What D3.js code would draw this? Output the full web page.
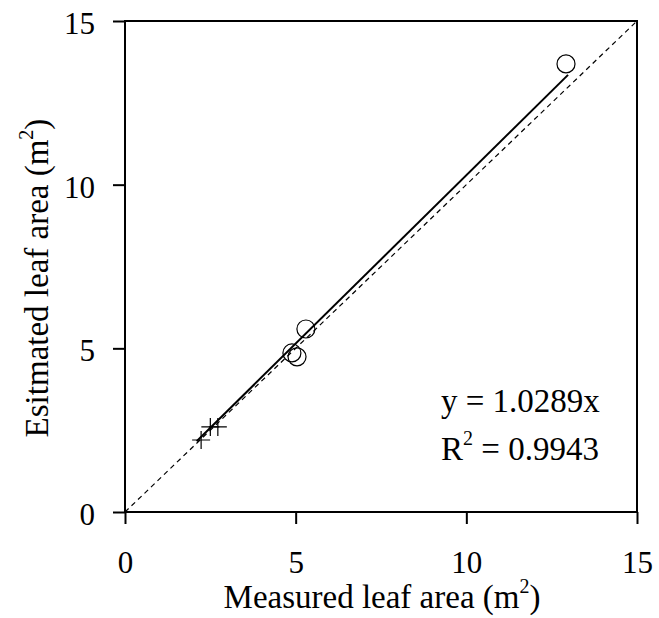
<!DOCTYPE html>
<html>
<head>
<meta charset="utf-8">
<script src="https://cdn.jsdelivr.net/npm/d3@7"></script>
<style>
  body { margin: 0; background: #fff; }
  text { font-family: "Liberation Serif", "Times New Roman", serif; fill: #000; }
</style>
</head>
<body>
<div id="chart"></div>
<script>
// data
var crossX = [2.23, 2.5, 2.72]
var crossY = [2.2, 2.6, 2.6]
var circleX = [4.89, 5.04, 5.3, 12.92]
var circleY = [4.86, 4.74, 5.59, 13.69]
var slope = 1.0289
var fitRange = [2.1, 12.98]
var tickVals = [0, 5, 10, 15]

var width = 659, height = 618

var svg = d3.select("#chart")
  .append("svg")
    .attr("width", width)
    .attr("height", height)

var x = d3.scaleLinear().domain([0, 15]).range([125, 637])
var y = d3.scaleLinear().domain([0, 15]).range([512, 21])

// 1:1 dashed line
svg.append("line")
  .attr("x1", x(0)).attr("y1", y(0))
  .attr("x2", x(15)).attr("y2", y(15))
  .attr("stroke", "#000")
  .attr("stroke-width", 1.2)
  .attr("stroke-dasharray", "5,4")

// fitted line
svg.append("line")
  .attr("x1", x(fitRange[0])).attr("y1", y(fitRange[0] * slope))
  .attr("x2", x(fitRange[1])).attr("y2", y(fitRange[1] * slope))
  .attr("stroke", "#000")
  .attr("stroke-width", 2)

// crosses
var crosses = crossX.map(function (v, i) { return {x: v, y: crossY[i]} })
svg.append("g")
  .selectAll("path")
  .data(crosses)
  .enter()
  .append("path")
    .attr("d", function (d) {
      var cx = x(d.x), cy = y(d.y), s = 9
      return "M" + (cx - s) + "," + cy + "H" + (cx + s) + "M" + cx + "," + (cy - s) + "V" + (cy + s)
    })
    .attr("stroke", "#000")
    .attr("stroke-width", 1.2)

// circles
var circles = circleX.map(function (v, i) { return {x: v, y: circleY[i]} })
svg.append("g")
  .selectAll("circle")
  .data(circles)
  .enter()
  .append("circle")
    .attr("cx", function (d) { return x(d.x) })
    .attr("cy", function (d) { return y(d.y) })
    .attr("r", 9)
    .attr("fill", "none")
    .attr("stroke", "#000")
    .attr("stroke-width", 1.2)

// box
svg.append("rect")
  .attr("x", x(0)).attr("y", y(15))
  .attr("width", x(15) - x(0))
  .attr("height", y(0) - y(15))
  .attr("fill", "none")
  .attr("stroke", "#000")
  .attr("stroke-width", 2)

// axes
var xAxis = svg.append("g")
  .attr("transform", "translate(0," + y(0) + ")")
  .call(d3.axisBottom(x).tickValues(tickVals).tickSize(12).tickSizeOuter(0))
  .attr("font-family", "Liberation Serif")
  .attr("font-size", 31)
xAxis.select(".domain").remove()
xAxis.selectAll("line").attr("stroke-width", 2)
xAxis.selectAll("text")
  .attr("y", 61).attr("dy", 0)

var yAxis = svg.append("g")
  .attr("transform", "translate(" + x(0) + ",0)")
  .call(d3.axisLeft(y).tickValues(tickVals).tickSize(12).tickSizeOuter(0))
  .attr("font-family", "Liberation Serif")
  .attr("font-size", 31)
yAxis.select(".domain").remove()
yAxis.selectAll("line").attr("stroke-width", 2)
yAxis.selectAll("text")
  .attr("x", -30).attr("dy", "0.4em")

// x title
var xt = svg.append("text")
  .attr("text-anchor", "middle")
  .attr("x", 382)
  .attr("y", 608)
  .style("font-size", "33px")
xt.append("tspan").text("Measured leaf area (m")
xt.append("tspan").text("2").style("font-size", "20px").attr("dy", -15)
xt.append("tspan").text(")").attr("dy", 15)

// y title
var yt = svg.append("text")
  .attr("text-anchor", "middle")
  .attr("transform", "translate(48,278) rotate(-90)")
  .style("font-size", "33px")
yt.append("tspan").text("Esitmated leaf area (m")
yt.append("tspan").text("2").style("font-size", "20px").attr("dy", -15)
yt.append("tspan").text(")").attr("dy", 15)

// equation
svg.append("text")
  .attr("x", 441).attr("y", 412)
  .style("font-size", "33px")
  .text("y = 1.0289x")

var r2 = svg.append("text")
  .attr("x", 441).attr("y", 460)
  .style("font-size", "33px")
r2.append("tspan").text("R")
r2.append("tspan").text("2").style("font-size", "20px").attr("dy", -15)
r2.append("tspan").text(" = 0.9943").attr("dy", 15)
</script>
</body>
</html>
